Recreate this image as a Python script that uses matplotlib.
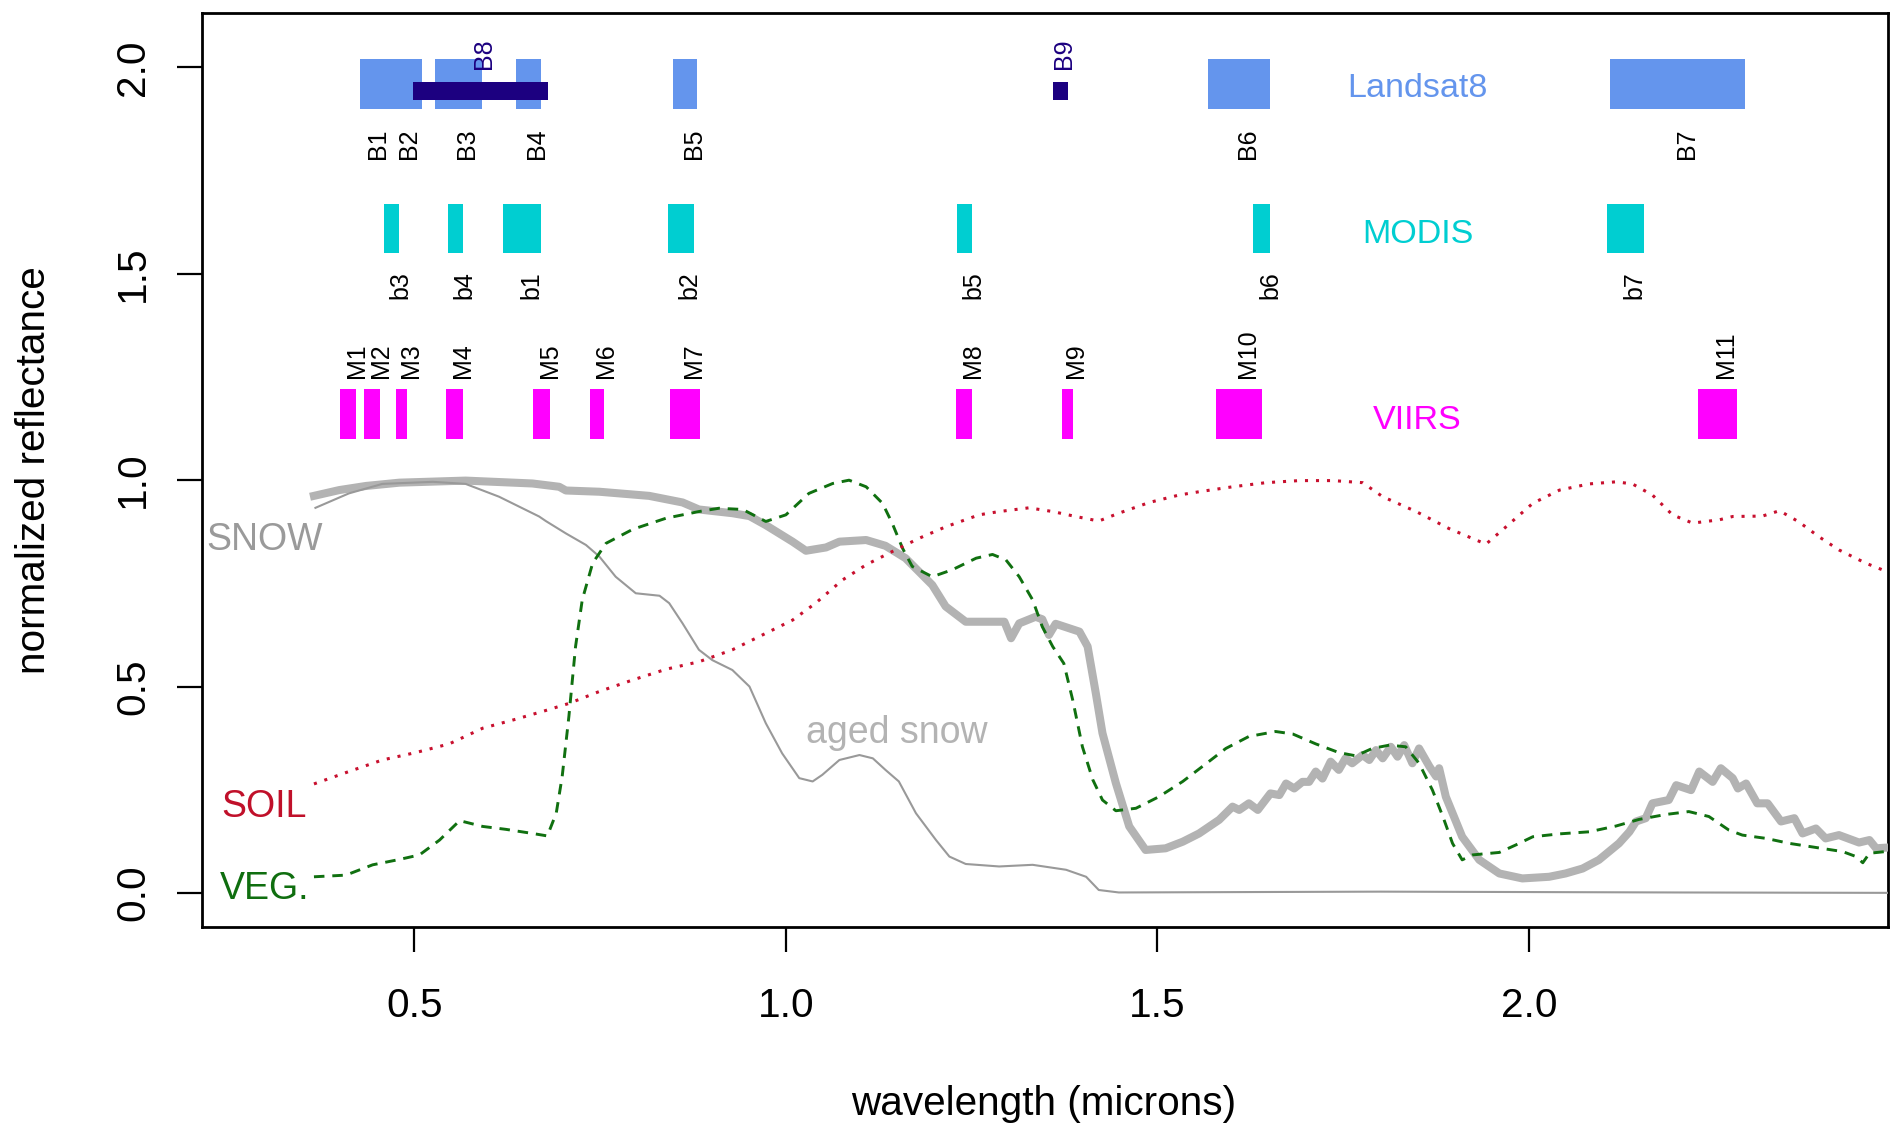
import matplotlib
matplotlib.use("Agg")
import matplotlib.pyplot as plt

plt.rcParams["font.family"] = ["Liberation Sans", "DejaVu Sans"]

# reflectance spectra
snow_wl = [0.365, 0.399, 0.435, 0.480, 0.569, 0.659, 0.695, 0.704, 0.749, 0.816,
           0.861, 0.883, 0.928, 0.951, 0.973, 1.009, 1.027, 1.054, 1.072, 1.108,
           1.134, 1.161, 1.197, 1.215, 1.242, 1.273, 1.294, 1.303, 1.314, 1.336,
           1.345, 1.354, 1.363, 1.395, 1.406, 1.417, 1.426, 1.444, 1.462, 1.484,
           1.511, 1.534, 1.556, 1.583, 1.601, 1.610, 1.623, 1.635, 1.652, 1.664,
           1.673, 1.684, 1.695, 1.704, 1.713, 1.722, 1.733, 1.744, 1.753, 1.762,
           1.776, 1.785, 1.794, 1.803, 1.814, 1.823, 1.832, 1.843, 1.852, 1.866,
           1.875, 1.879, 1.888, 1.910, 1.933, 1.960, 1.991, 2.027, 2.049, 2.072,
           2.094, 2.121, 2.135, 2.144, 2.157, 2.166, 2.188, 2.198, 2.218, 2.229,
           2.247, 2.258, 2.274, 2.281, 2.292, 2.307, 2.321, 2.339, 2.357, 2.368,
           2.386, 2.399, 2.417, 2.444, 2.458, 2.467, 2.500]
snow_refl = [0.962, 0.976, 0.986, 0.994, 0.999, 0.992, 0.984, 0.975, 0.972, 0.962,
             0.946, 0.929, 0.920, 0.913, 0.891, 0.851, 0.829, 0.837, 0.851, 0.855,
             0.841, 0.811, 0.746, 0.694, 0.657, 0.657, 0.657, 0.617, 0.653, 0.669,
             0.663, 0.625, 0.652, 0.633, 0.597, 0.484, 0.387, 0.266, 0.161, 0.104,
             0.108, 0.124, 0.144, 0.177, 0.209, 0.201, 0.217, 0.201, 0.241, 0.237,
             0.265, 0.253, 0.269, 0.269, 0.294, 0.277, 0.318, 0.298, 0.326, 0.314,
             0.334, 0.322, 0.346, 0.326, 0.354, 0.330, 0.358, 0.314, 0.350, 0.306,
             0.282, 0.302, 0.233, 0.136, 0.080, 0.047, 0.035, 0.039, 0.047, 0.059,
             0.080, 0.120, 0.148, 0.173, 0.181, 0.217, 0.225, 0.261, 0.249, 0.294,
             0.269, 0.302, 0.278, 0.253, 0.265, 0.217, 0.217, 0.173, 0.181, 0.144,
             0.156, 0.132, 0.140, 0.122, 0.128, 0.108, 0.112]

aged_wl = [0.367, 0.412, 0.457, 0.525, 0.569, 0.614, 0.641, 0.668, 0.677, 0.704,
           0.731, 0.749, 0.771, 0.798, 0.830, 0.843, 0.861, 0.883, 0.901, 0.928,
           0.951, 0.973, 0.995, 1.018, 1.036, 1.049, 1.072, 1.099, 1.117, 1.134,
           1.152, 1.175, 1.202, 1.220, 1.242, 1.287, 1.332, 1.377, 1.404, 1.421,
           1.448, 1.800, 2.200, 2.500]
aged_refl = [0.933, 0.968, 0.991, 0.996, 0.991, 0.960, 0.936, 0.912, 0.901, 0.871,
             0.843, 0.815, 0.766, 0.726, 0.720, 0.702, 0.653, 0.589, 0.564, 0.540,
             0.500, 0.411, 0.338, 0.278, 0.270, 0.286, 0.322, 0.334, 0.326, 0.298,
             0.270, 0.193, 0.128, 0.088, 0.070, 0.064, 0.068, 0.056, 0.039, 0.007,
             0.001, 0.003, 0.001, 0.000]

veg_wl = [0.365, 0.408, 0.444, 0.480, 0.507, 0.534, 0.561, 0.592, 0.623, 0.659,
          0.679, 0.691, 0.699, 0.708, 0.717, 0.726, 0.740, 0.758, 0.794, 0.839,
          0.883, 0.910, 0.942, 0.973, 1.000, 1.031, 1.063, 1.085, 1.108, 1.130,
          1.143, 1.157, 1.170, 1.197, 1.224, 1.256, 1.278, 1.296, 1.314, 1.332,
          1.345, 1.359, 1.374, 1.386, 1.399, 1.413, 1.426, 1.444, 1.471, 1.502,
          1.534, 1.569, 1.592, 1.623, 1.659, 1.682, 1.713, 1.744, 1.767, 1.789,
          1.812, 1.834, 1.852, 1.870, 1.884, 1.897, 1.910, 1.924, 1.960, 1.982,
          2.005, 2.041, 2.081, 2.117, 2.148, 2.184, 2.215, 2.242, 2.269, 2.287,
          2.319, 2.350, 2.386, 2.422, 2.440, 2.449, 2.458, 2.500]
veg_refl = [0.039, 0.043, 0.068, 0.081, 0.092, 0.128, 0.175, 0.161, 0.154, 0.144,
            0.138, 0.193, 0.282, 0.427, 0.597, 0.710, 0.799, 0.847, 0.881, 0.908,
            0.924, 0.932, 0.929, 0.900, 0.916, 0.968, 0.992, 1.000, 0.984, 0.944,
            0.896, 0.835, 0.791, 0.766, 0.783, 0.811, 0.820, 0.807, 0.766, 0.710,
            0.645, 0.597, 0.556, 0.467, 0.354, 0.274, 0.225, 0.199, 0.205, 0.233,
            0.270, 0.318, 0.350, 0.379, 0.391, 0.385, 0.361, 0.340, 0.332, 0.350,
            0.358, 0.354, 0.314, 0.249, 0.185, 0.120, 0.080, 0.092, 0.098, 0.116,
            0.136, 0.143, 0.148, 0.162, 0.178, 0.190, 0.197, 0.185, 0.152, 0.140,
            0.132, 0.120, 0.110, 0.100, 0.088, 0.073, 0.096, 0.104]

soil_wl = [0.365, 0.412, 0.457, 0.502, 0.547, 0.592, 0.637, 0.677, 0.708, 0.749,
           0.794, 0.839, 0.883, 0.928, 0.973, 1.009, 1.040, 1.076, 1.108, 1.143,
           1.179, 1.215, 1.260, 1.287, 1.327, 1.359, 1.390, 1.421, 1.448, 1.489,
           1.529, 1.556, 1.601, 1.646, 1.691, 1.736, 1.776, 1.803, 1.848, 1.892,
           1.942, 1.969, 2.005, 2.041, 2.081, 2.117, 2.139, 2.166, 2.193, 2.220,
           2.256, 2.274, 2.314, 2.337, 2.363, 2.390, 2.417, 2.453, 2.500]
soil_refl = [0.264, 0.294, 0.322, 0.340, 0.361, 0.399, 0.421, 0.442, 0.459, 0.488,
             0.516, 0.542, 0.560, 0.589, 0.629, 0.661, 0.702, 0.758, 0.795, 0.827,
             0.859, 0.887, 0.916, 0.924, 0.933, 0.924, 0.912, 0.901, 0.920, 0.946,
             0.964, 0.972, 0.984, 0.994, 0.999, 0.999, 0.994, 0.960, 0.924, 0.883,
             0.845, 0.887, 0.944, 0.976, 0.991, 0.996, 0.991, 0.964, 0.916, 0.896,
             0.904, 0.912, 0.913, 0.926, 0.899, 0.863, 0.831, 0.799, 0.765]

# sensor bands (microns)
landsat_names = ["B1", "B2", "B3", "B4", "B5", "B6", "B7"]
landsat_lo = [0.427, 0.452, 0.528, 0.637, 0.848, 1.568, 2.109]
landsat_hi = [0.452, 0.510, 0.591, 0.670, 0.880, 1.651, 2.291]
pan_names = ["B8", "B9"]
pan_lo = [0.498, 1.359]
pan_hi = [0.680, 1.380]
modis_names = ["b3", "b4", "b1", "b2", "b5", "b6", "b7"]
modis_lo = [0.459, 0.545, 0.620, 0.841, 1.230, 1.628, 2.105]
modis_hi = [0.479, 0.565, 0.670, 0.876, 1.250, 1.652, 2.155]
viirs_names = ["M1", "M2", "M3", "M4", "M5", "M6", "M7", "M8", "M9", "M10", "M11"]
viirs_lo = [0.400, 0.433, 0.476, 0.543, 0.660, 0.737, 0.844, 1.229, 1.371, 1.579, 2.227]
viirs_hi = [0.422, 0.454, 0.490, 0.565, 0.682, 0.755, 0.885, 1.250, 1.386, 1.641, 2.280]

LANDSAT_C = "#6495ed"
PAN_C = "#1c0080"
MODIS_C = "#00ced1"
VIIRS_C = "#ff00ff"
SOIL_C = "#c8102e"
VEG_C = "#107010"

fig = plt.figure(figsize=(9.46, 5.655), dpi=200)
ax = fig.add_axes([0.1069, 0.1804, 0.8910, 0.8081])


def band_row(lo, hi, bottom, height, color):
    widths = [h - l for l, h in zip(lo, hi)]
    ax.bar(lo, height, width=widths, bottom=bottom, align="edge",
           color=color, linewidth=0, zorder=2)


def band_labels(names, lo, hi, y, va, color="black", off=0.012):
    for name, l, h in zip(names, lo, hi):
        ax.text((l + h) / 2 + off, y, name, rotation=90, ha="center", va=va,
                fontsize=9, color=color)


band_row(landsat_lo, landsat_hi, 1.90, 0.12, LANDSAT_C)
band_row(pan_lo, pan_hi, 1.92, 0.045, PAN_C)
band_row(modis_lo, modis_hi, 1.55, 0.12, MODIS_C)
band_row(viirs_lo, viirs_hi, 1.10, 0.12, VIIRS_C)

band_labels(landsat_names, landsat_lo, landsat_hi, 1.853, "top")
band_labels(pan_names, pan_lo, pan_hi, 1.996, "bottom", color=PAN_C, off=0.005)
band_labels(modis_names, modis_lo, modis_hi, 1.506, "top")
band_labels(viirs_names, viirs_lo, viirs_hi, 1.247, "bottom")

ax.text(1.85, 1.929, "Landsat8", color=LANDSAT_C, fontsize=12.3, ha="center", va="baseline")
ax.text(1.85, 1.5755, "MODIS", color=MODIS_C, fontsize=12.3, ha="center", va="baseline")
ax.text(1.85, 1.123, "VIIRS", color=VIIRS_C, fontsize=12.3, ha="center", va="baseline")

# spectra
ax.plot(snow_wl, snow_refl, color="#b3b3b3", lw=2.9, solid_joinstyle="round", zorder=3)
ax.plot(aged_wl, aged_refl, color="#999999", lw=0.75, zorder=3)
ax.plot(veg_wl, veg_refl, color=VEG_C, lw=1.05, linestyle=(0, (3.6, 2.7)), zorder=4)
ax.plot(soil_wl, soil_refl, color=SOIL_C, lw=1.1, linestyle=(0, (1, 2.6)), zorder=4)

ax.text(0.298, 0.831, "SNOW", color="#9a9a9a", fontsize=13.5, ha="center", va="baseline")
ax.text(0.298, 0.183, "SOIL", color="#c0102a", fontsize=13.5, ha="center", va="baseline")
ax.text(0.298, -0.0155, "VEG.", color="#0f6e0f", fontsize=13.5, ha="center", va="baseline")
ax.text(1.149, 0.364, "aged snow", color="#b3b3b3", fontsize=13.5, ha="center", va="baseline")

ax.set_xlim(0.2147, 2.483)
ax.set_ylim(-0.0826, 2.132)
ax.set_xticks([0.5, 1.0, 1.5, 2.0])
ax.set_xticklabels(["0.5", "1.0", "1.5", "2.0"])
ax.set_yticks([0.0, 0.5, 1.0, 1.5, 2.0])
ax.set_yticklabels(["0.0", "0.5", "1.0", "1.5", "2.0"])
ax.tick_params(length=9, width=0.8, labelsize=14.6, direction="out")
ax.tick_params(axis="x", pad=12.5)
ax.tick_params(axis="y", pad=9, labelrotation=90)
for lab in ax.get_yticklabels():
    lab.set_va("center")
for sp in ax.spines.values():
    sp.set_linewidth(1.0)

fig.text(0.018, 0.5845, "normalized reflectance", rotation=90, ha="center",
         va="center", fontsize=14.6)
fig.text(0.5516, 0.0142, "wavelength (microns)", ha="center", va="baseline",
         fontsize=14.6)

fig.savefig("out.png", dpi=200)
